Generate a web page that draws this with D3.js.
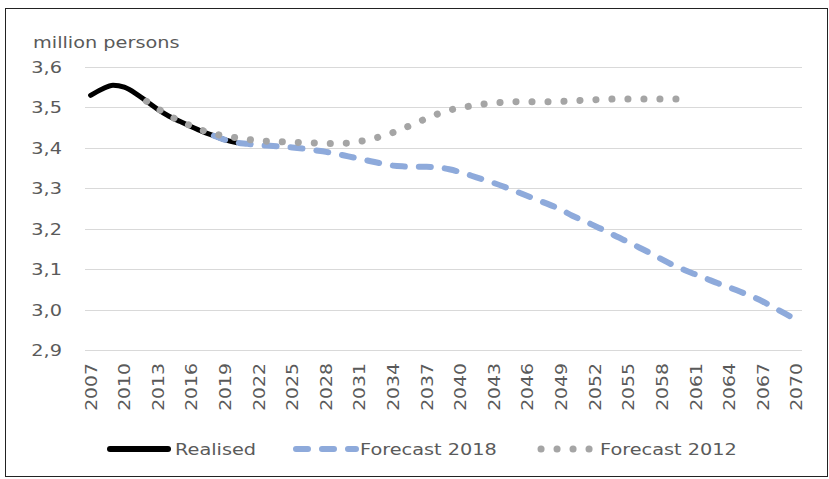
<!DOCTYPE html>
<html>
<head>
<meta charset="utf-8">
<script src="https://cdn.jsdelivr.net/npm/d3@7"></script>
<style>
  body { margin: 0; background: #fff; }
  text { font-family: "DejaVu Sans", sans-serif; fill: #5a5a5a; }
</style>
</head>
<body>
<svg id="mainsvg" width="829" height="479"></svg>
<script>
// data
let realisedYears = d3.range(2007, 2021);
let realised = [3.53, 3.545, 3.555, 3.55, 3.535, 3.515, 3.495, 3.478, 3.465, 3.452, 3.44, 3.43, 3.42, 3.413];

let f2018Years = d3.range(2018, 2071);
let forecast2018 = [3.43, 3.42, 3.413, 3.41, 3.407, 3.405, 3.403, 3.401, 3.398, 3.394,
    3.39, 3.385, 3.379, 3.373, 3.367, 3.361, 3.356, 3.354, 3.353, 3.353,
    3.352, 3.347, 3.34, 3.331, 3.322, 3.313, 3.303, 3.292, 3.281, 3.27,
    3.259, 3.247, 3.232, 3.22, 3.207, 3.194, 3.18, 3.167, 3.153, 3.139,
    3.124, 3.11, 3.098, 3.087, 3.076, 3.065, 3.055, 3.044, 3.033, 3.02,
    3.005, 2.99, 2.975];

let f2012Years = d3.range(2012, 2061);
let forecast2012 = [3.515, 3.497, 3.48, 3.466, 3.454, 3.443, 3.435, 3.429, 3.425, 3.421,
    3.418, 3.416, 3.415, 3.414, 3.413, 3.412, 3.411, 3.411, 3.412, 3.416,
    3.421, 3.429, 3.438, 3.449, 3.461, 3.473, 3.484, 3.493, 3.499, 3.504,
    3.508, 3.511, 3.513, 3.514, 3.514, 3.514, 3.514, 3.515, 3.516, 3.518,
    3.519, 3.52, 3.521, 3.521, 3.521, 3.521, 3.521, 3.521, 3.521];

let allYears = d3.range(2007, 2071);
let tickYears = d3.range(2007, 2071, 3);
let yTicks = [2.9, 3.0, 3.1, 3.2, 3.3, 3.4, 3.5, 3.6];
let seriesNames = ["Realised", "Forecast 2018", "Forecast 2012"];

let svg = d3.select("#mainsvg");
let stretch = 1.17;

// frame
svg.append("rect")
    .attr("x", 5.5).attr("y", 8.5)
    .attr("width", 822).attr("height", 468)
    .attr("fill", "none").attr("stroke", "#222").attr("stroke-width", 1);

let x = d3.scalePoint().domain(allYears).range([85, 802]).padding(0.5);
let y = d3.scaleLinear().domain([2.9, 3.6]).range([350, 67]);

// grid
let gridg = svg.append("g").attr("id", "grid-g");
gridg.selectAll("line").data(yTicks).enter()
    .append("line")
    .attr("x1", 85).attr("x2", 802)
    .attr("y1", d => Math.round(y(d)) + 0.5)
    .attr("y2", d => Math.round(y(d)) + 0.5)
    .attr("stroke", "#d9d9d9").attr("stroke-width", 1);

// y labels
let fmt = d => d.toFixed(1).replace(".", ",");
svg.append("g").selectAll("text").data(yTicks).enter()
    .append("text")
    .attr("transform", d => "translate(62," + y(d) + ") scale(" + stretch + ",1)")
    .attr("text-anchor", "end")
    .attr("dy", "0.36em")
    .attr("font-size", 16.5)
    .text(fmt);

svg.append("text")
    .attr("transform", "translate(33,48) scale(" + stretch + ",1)")
    .attr("font-size", 16.5)
    .text("million persons");

// x labels
svg.append("g").selectAll("text").data(tickYears).enter()
    .append("text")
    .attr("transform", d => "translate(" + x(d) + ",363) rotate(-90) scale(1.14,1)")
    .attr("text-anchor", "end")
    .attr("dy", "0.36em")
    .attr("font-size", 16.5)
    .text(d => d);

// lines
let line = d3.line()
    .x(d => x(d[0]))
    .y(d => y(d[1]))
    .curve(d3.curveMonotoneX);

let lineg = svg.append("g").attr("id", "line-g");
lineg.append("path")
    .attr("d", line(d3.zip(realisedYears, realised)))
    .attr("fill", "none").attr("stroke", "#000")
    .attr("stroke-width", 5).attr("stroke-linecap", "round");
lineg.append("path")
    .attr("d", line(d3.zip(f2018Years, forecast2018)))
    .attr("fill", "none").attr("stroke", "#8eaadb")
    .attr("stroke-width", 6).attr("stroke-linecap", "round")
    .attr("stroke-dasharray", "12 14");
lineg.append("path")
    .attr("d", line(d3.zip(f2012Years, forecast2012)))
    .attr("fill", "none").attr("stroke", "#a5a5a5")
    .attr("stroke-width", 7).attr("stroke-linecap", "round")
    .attr("stroke-dasharray", "0.1 15.9");

// legend
let legendg = svg.append("g").attr("id", "legend-g");
let ly = 449;
legendg.append("line")
    .attr("x1", 110).attr("x2", 168).attr("y1", ly).attr("y2", ly)
    .attr("stroke", "#000").attr("stroke-width", 6).attr("stroke-linecap", "round");
legendg.append("line")
    .attr("x1", 296).attr("x2", 356).attr("y1", ly).attr("y2", ly)
    .attr("stroke", "#8eaadb").attr("stroke-width", 6).attr("stroke-linecap", "round")
    .attr("stroke-dasharray", "12 14");
legendg.append("line")
    .attr("x1", 541).attr("x2", 590).attr("y1", ly).attr("y2", ly)
    .attr("stroke", "#a5a5a5").attr("stroke-width", 7).attr("stroke-linecap", "round")
    .attr("stroke-dasharray", "0.1 15.9");

let legendX = [175, 360, 600];
legendg.selectAll("text.leg").data(seriesNames).enter()
    .append("text")
    .attr("class", "leg")
    .attr("transform", (d, i) => "translate(" + legendX[i] + "," + ly + ") scale(" + stretch + ",1)")
    .attr("dy", "0.36em")
    .attr("font-size", 16.5)
    .text(d => d);
</script>
</body>
</html>
